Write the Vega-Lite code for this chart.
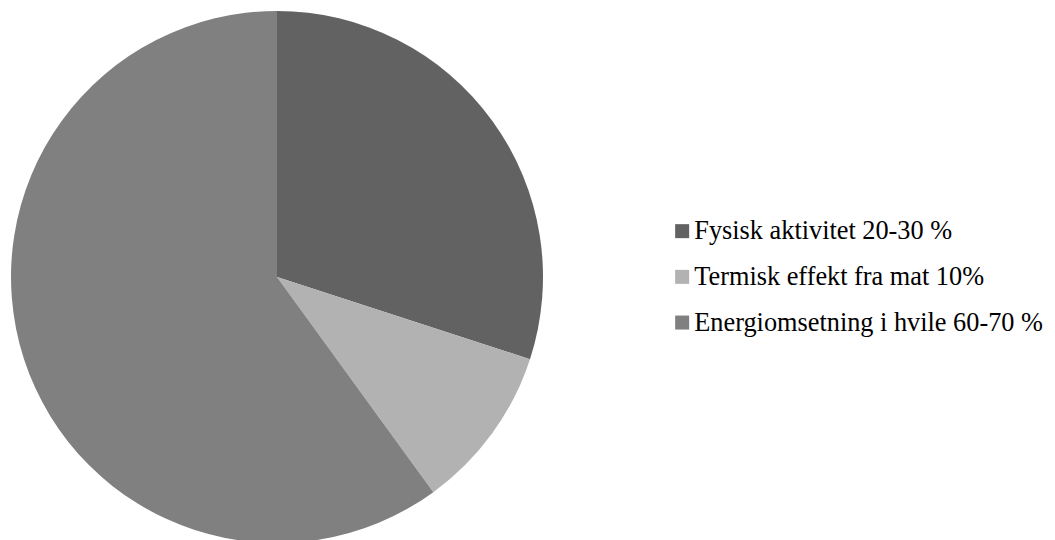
{
  "$schema": "https://vega.github.io/schema/vega-lite/v6.json",
  "width": 554,
  "height": 554,
  "padding": 0,
  "autosize": {"type": "pad"},
  "background": "white",
  "config": {"view": {"stroke": null}},
  "data": {
    "values": [
      {"kategori": "Fysisk aktivitet 20-30 %", "andel": 30, "rekkefolge": 1},
      {"kategori": "Termisk effekt fra mat 10%", "andel": 10, "rekkefolge": 2},
      {"kategori": "Energiomsetning i hvile 60-70 %", "andel": 60, "rekkefolge": 3}
    ]
  },
  "mark": {"type": "arc", "radius": 266},
  "encoding": {
    "theta": {"field": "andel", "type": "quantitative", "stack": true},
    "order": {"field": "rekkefolge", "type": "quantitative", "sort": "ascending"},
    "color": {
      "field": "kategori",
      "type": "nominal",
      "scale": {
        "domain": ["Fysisk aktivitet 20-30 %", "Termisk effekt fra mat 10%", "Energiomsetning i hvile 60-70 %"],
        "range": ["#626262", "#b2b2b2", "#808080"]
      },
      "legend": {
        "title": null,
        "orient": "none",
        "legendX": 669,
        "legendY": 218,
        "padding": 0,
        "symbolType": "square",
        "symbolSize": 196,
        "symbolStrokeWidth": 0,
        "symbolOffset": 0,
        "labelOffset": -1,
        "labelFont": "Liberation Serif",
        "labelFontSize": 26.3,
        "labelColor": "black",
        "labelLimit": 0,
        "rowPadding": 18.7
      }
    }
  }
}
